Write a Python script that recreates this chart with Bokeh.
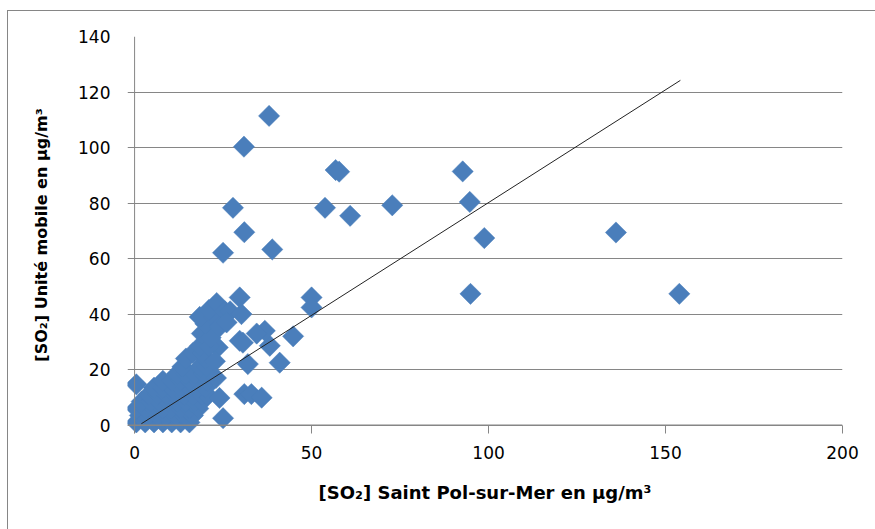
import math
from bokeh.plotting import figure
from bokeh.models import FixedTicker, Span, Range1d
from bokeh.embed import file_html
from bokeh.resources import INLINE

# ---- data ----
# dense cluster near the origin
cluster_x = [0.5, 3, 5.5, 8, 10.5, 13, 15.5,
             1.5, 4, 6.5, 9, 11.5, 14, 16.5,
             0.5, 3, 5.5, 8, 10.5, 13, 15.5, 18,
             2, 4.5, 7, 9.5, 12, 14.5, 17, 19,
             4, 6.5, 9, 11.5, 14, 16.5, 19, 20.5,
             5.5, 8, 10.5, 13, 15.5, 18, 20,
             8, 10.5, 13, 15.5, 18, 20.5,
             12, 14.5, 17, 19.5,
             13.5, 18.5, 20.5,
             14.5, 20,
             16.5, 19, 23.5,
             18.5, 21,
             19, 21.5, 20, 18.4, 22.5, 21, 23.2, 25.5, 24, 27, 26]
cluster_y = [1, 1, 1, 1, 1, 1, 1,
             3.5, 3.5, 3.5, 3.5, 3.5, 3.5, 3.5,
             6, 6, 6, 6, 6, 6, 6, 6,
             8.5, 8.5, 8.5, 8.5, 8.5, 8.5, 8.5, 8.5,
             11, 11, 11, 11, 11, 11, 11, 11,
             13.5, 13.5, 13.5, 13.5, 13.5, 13.5, 13.5,
             16, 16, 16, 16, 16, 16,
             18.5, 18.5, 18.5, 18.5,
             21, 21, 21,
             24, 24,
             26, 26, 28,
             28.5, 28.5,
             33, 31.5, 36.5, 39, 39, 41.5, 44, 41, 35.5, 41, 37]

# scattered points
other_x = [0.5, 24.0, 25, 22.7, 23, 31.0, 33, 32.0, 29.7, 30.6, 38.2, 36.8, 34.5,
           44.8, 41, 35.9, 30.2, 29.7, 50, 50,
           38.0, 30.9, 27.8, 31.0, 38.9, 25.0, 53.8, 56.8, 57.8, 60.9, 72.8,
           92.7, 94.7, 98.8, 94.9, 136.0, 153.9]
other_y = [14.7, 9.8, 2.5, 23, 17, 11.2, 11.2, 22, 30.4, 29.7, 28.6, 34, 33,
           32, 22.5, 9.9, 40, 46, 46, 42.4,
           111.4, 100.3, 78.3, 69.5, 63.3, 62.1, 78.3, 91.9, 91.3, 75.4, 79.2,
           91.4, 80.4, 67.4, 47.3, 69.4, 47.3]

x_vals = cluster_x + other_x
y_vals = cluster_y + other_y

# linear trend line end points
trend_x = [1.9, 154.2]
trend_y = [0.5, 124.2]

x_ticks = [0, 50, 100, 150, 200]
y_ticks = [0, 20, 40, 60, 80, 100, 120, 140]

x_title = "[SO\u2082] Saint Pol-sur-Mer en \u00b5g/m\u00b3"
y_title = "[SO\u2082] Unit\u00e9 mobile en \u00b5g/m\u00b3"

BLUE = "#4A7EBB"
GRID = "#868686"

p = figure(width=868, height=519, output_backend="svg", toolbar_location=None,
           x_range=Range1d(-2, 200), y_range=Range1d(-3, 140),
           min_border_left=119, min_border_right=34,
           min_border_top=25, min_border_bottom=97)
p.margin = (10, 0, 0, 7)
p.styles = {"border-left": "1px solid #868686", "border-top": "1px solid #868686"}
p.outline_line_color = None
p.background_fill_color = "white"
p.border_fill_color = "white"

p.xgrid.grid_line_color = None
p.ygrid.grid_line_color = GRID
p.ygrid.grid_line_width = 1
p.ygrid.ticker = FixedTicker(ticks=y_ticks)

p.xaxis.ticker = FixedTicker(ticks=x_ticks)
p.yaxis.ticker = FixedTicker(ticks=y_ticks)

for ax in (p.xaxis[0], p.yaxis[0]):
    ax.axis_line_color = None
    ax.major_label_text_font = "DejaVu Sans"
    ax.major_label_text_font_size = "17px"
    ax.major_label_text_color = "#000000"
    ax.minor_tick_line_color = None
    ax.axis_label_text_font = "DejaVu Sans"
    ax.axis_label_text_font_style = "bold"
    ax.axis_label_text_color = "#000000"

p.xaxis.major_tick_in = 8
p.xaxis.major_tick_out = 0
p.xaxis.major_tick_line_color = GRID
p.xaxis.major_label_standoff = 12
p.xaxis.axis_label = x_title
p.xaxis.axis_label_text_font_size = "18px"
p.xaxis.axis_label_standoff = 20

p.yaxis.major_tick_in = 0
p.yaxis.major_tick_out = 0
p.yaxis.major_tick_line_color = None
p.yaxis.major_label_standoff = 17
p.yaxis.axis_label = y_title
p.yaxis.axis_label_text_font_size = "16px"
p.yaxis.axis_label_standoff = 24

# axis lines at x=0 and y=0
p.add_layout(Span(location=0, dimension="height", line_color=GRID, line_width=1))
p.add_layout(Span(location=0, dimension="width", line_color=GRID, line_width=1.5))

p.scatter(x_vals, y_vals, marker="square", angle=math.pi / 4, size=15,
          fill_color=BLUE, line_color=BLUE, line_width=0.5)

p.line(trend_x, trend_y, line_color="#222222", line_width=1)

open("out.html", "w").write(file_html(p, INLINE))
